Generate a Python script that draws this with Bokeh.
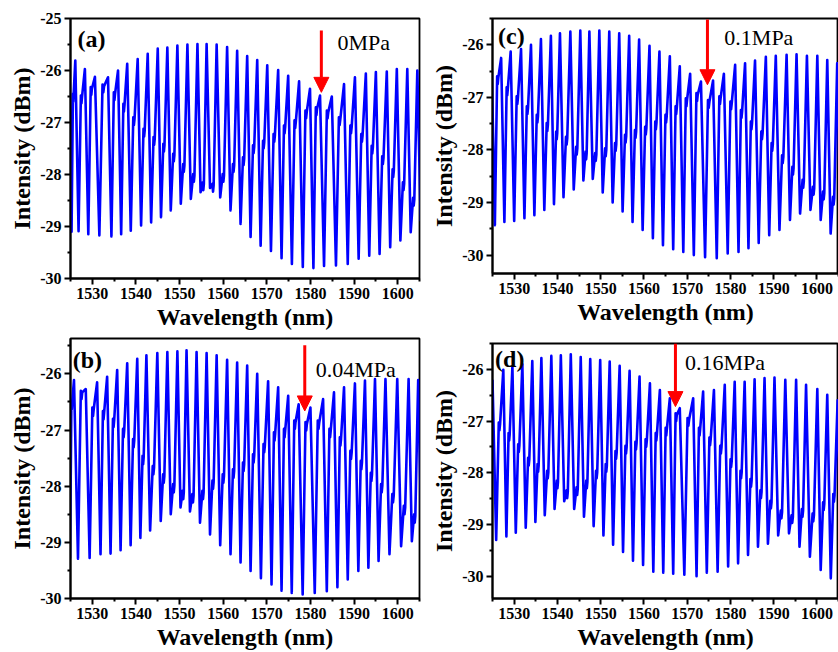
from bokeh.plotting import figure
from bokeh.models import FixedTicker, Label, Arrow, NormalHead, Range1d
from bokeh.layouts import row, column
from bokeh.embed import file_html
from bokeh.resources import INLINE

# ---------------- data ----------------
# Each panel: fringe peak wavelengths (nm) and peak levels (dBm),
# the shoulder level and the trough level that precede each peak
# (the last trough follows the last peak).

A_PEAK_NM = [1524.8, 1526.1, 1528.3, 1530.6, 1533.6, 1535.9, 1538.0, 1540.4, 1542.7, 1545.0,
             1547.2, 1549.5, 1551.8, 1554.1, 1556.2, 1558.5, 1560.9, 1563.2, 1565.5, 1567.8,
             1570.1, 1572.6, 1574.9, 1577.4, 1579.9, 1582.2, 1584.9, 1587.7, 1590.2, 1592.7,
             1595.0, 1597.5, 1599.8, 1602.2, 1604.5]
A_PEAK_DB = [-26.00, -25.81, -25.97, -26.12, -26.13, -26.00, -25.87, -25.78, -25.68, -25.58,
             -25.56, -25.52, -25.50, -25.49, -25.49, -25.50, -25.55, -25.62, -25.72, -25.80,
             -25.90, -25.99, -26.10, -26.21, -26.35, -26.48, -26.50, -26.26, -26.13, -26.06,
             -26.03, -26.02, -25.97, -25.97, -26.00]
A_SHOULDER_DB = [-26.45, -26.48, -26.32, -26.27, -26.42, -26.64, -26.90, -27.12, -27.28, -27.41,
                 -27.60, -27.80, -27.99, -28.15, -28.18, -27.99, -27.80, -27.67, -27.44, -27.35,
                 -27.22, -27.06, -26.96, -26.77, -26.71, -26.77, -26.90, -27.06, -27.22, -27.45,
                 -27.65, -27.90, -28.15, -28.45]
A_TROUGH_DB = [-29.10, -29.09, -29.15, -29.17, -29.19, -29.15, -29.08, -28.98, -28.92, -28.82,
               -28.69, -28.56, -28.47, -28.34, -28.26, -28.44, -28.69, -28.95, -29.20, -29.37,
               -29.47, -29.61, -29.72, -29.78, -29.80, -29.76, -29.75, -29.72, -29.62, -29.56,
               -29.53, -29.40, -29.27, -29.11, -28.90]

B_PEAK_NM = [1524.4, 1525.8, 1528.5, 1531.1, 1533.4, 1535.7, 1538.0, 1540.3, 1542.4, 1544.9,
             1547.2, 1549.5, 1551.6, 1553.9, 1556.2, 1558.5, 1560.9, 1563.2, 1565.5, 1567.8,
             1570.3, 1572.6, 1574.9, 1577.3, 1580.0, 1582.9, 1585.4, 1587.7, 1590.2, 1592.5,
             1594.8, 1597.2, 1599.9, 1602.5, 1604.7]
B_PEAK_DB = [-26.20, -26.11, -26.27, -26.15, -26.05, -25.93, -25.81, -25.73, -25.67, -25.63,
             -25.61, -25.60, -25.58, -25.61, -25.63, -25.67, -25.75, -25.80, -25.85, -26.00,
             -26.13, -26.24, -26.39, -26.54, -26.60, -26.45, -26.33, -26.24, -26.17, -26.12,
             -26.09, -26.09, -26.09, -26.09, -26.11]
B_SHOULDER_DB = [-26.48, -26.30, -26.60, -26.66, -26.80, -26.98, -27.16, -27.46, -27.64, -27.79,
                 -27.96, -28.08, -28.14, -28.08, -27.90, -27.79, -27.70, -27.58, -27.43, -27.25,
                 -27.04, -26.98, -26.83, -26.86, -26.83, -26.98, -27.13, -27.37, -27.55, -27.76,
                 -27.96, -28.14, -28.35, -28.50]
B_TROUGH_DB = [-29.28, -29.29, -29.28, -29.21, -29.20, -29.14, -29.05, -28.92, -28.79, -28.62,
               -28.50, -28.38, -28.45, -28.65, -28.86, -29.05, -29.21, -29.36, -29.51, -29.64,
               -29.75, -29.86, -29.90, -29.93, -29.90, -29.87, -29.80, -29.66, -29.51, -29.45,
               -29.33, -29.21, -29.07, -28.98, -28.90]

C_PEAK_NM = [1524.8, 1527.0, 1529.2, 1531.6, 1533.9, 1536.2, 1538.5, 1540.6, 1543.0, 1545.3,
             1547.4, 1549.7, 1552.0, 1554.3, 1556.6, 1558.9, 1561.3, 1563.6, 1566.0, 1568.3,
             1570.7, 1573.2, 1576.0, 1578.5, 1581.1, 1583.4, 1585.7, 1588.2, 1590.5, 1593.0,
             1595.3, 1597.7, 1600.1, 1602.4, 1604.7]
C_PEAK_DB = [-26.35, -26.25, -26.13, -26.08, -26.00, -25.89, -25.83, -25.78, -25.75, -25.73,
             -25.75, -25.73, -25.75, -25.78, -25.83, -25.90, -26.02, -26.13, -26.22, -26.41,
             -26.55, -26.70, -26.68, -26.55, -26.38, -26.35, -26.30, -26.23, -26.21, -26.19,
             -26.18, -26.21, -26.21, -26.29, -26.35]
C_SHOULDER_DB = [-26.60, -26.81, -26.98, -27.17, -27.33, -27.49, -27.65, -27.75, -27.94, -28.03,
                 -28.06, -27.97, -27.87, -27.71, -27.62, -27.56, -27.46, -27.33, -27.17, -27.02,
                 -26.92, -27.05, -26.98, -27.08, -27.24, -27.46, -27.65, -27.87, -28.10, -28.32,
                 -28.57, -28.70, -28.79, -28.89]
C_TROUGH_DB = [-29.43, -29.37, -29.35, -29.30, -29.24, -29.14, -29.03, -28.90, -28.75, -28.58,
               -28.55, -28.81, -29.00, -29.17, -29.37, -29.52, -29.68, -29.81, -29.89, -29.94,
               -30.00, -30.04, -30.06, -29.97, -29.94, -29.87, -29.77, -29.62, -29.52, -29.33,
               -29.21, -29.14, -29.33, -29.59, -29.60]

D_PEAK_NM = [1525.0, 1527.5, 1529.6, 1531.9, 1534.2, 1536.3, 1538.6, 1540.8, 1543.1, 1545.4,
             1547.6, 1549.9, 1552.1, 1554.4, 1556.7, 1559.0, 1561.4, 1563.7, 1566.0, 1568.3,
             1571.4, 1573.7, 1576.2, 1578.7, 1581.0, 1583.3, 1585.6, 1587.9, 1590.2, 1592.7,
             1595.2, 1597.5, 1600.1, 1602.4, 1604.8]
D_PEAK_DB = [-26.20, -26.01, -25.95, -25.90, -25.84, -25.78, -25.74, -25.73, -25.71, -25.76,
             -25.80, -25.82, -25.85, -25.93, -26.03, -26.14, -26.27, -26.40, -26.56, -26.75,
             -26.56, -26.43, -26.40, -26.30, -26.24, -26.24, -26.19, -26.17, -26.16, -26.20,
             -26.20, -26.30, -26.38, -26.49, -26.60]
D_SHOULDER_DB = [-27.03, -27.23, -27.45, -27.71, -27.83, -27.96, -28.15, -28.34, -28.28, -28.15,
                 -27.96, -27.83, -27.58, -27.48, -27.40, -27.35, -27.23, -27.13, -26.85, -26.94,
                 -27.13, -27.32, -27.48, -27.74, -27.96, -28.12, -28.34, -28.54, -28.73, -28.82,
                 -28.70, -28.79, -28.57, -28.41]
D_TROUGH_DB = [-29.30, -29.23, -29.16, -29.06, -28.95, -28.82, -28.70, -28.55, -28.70, -28.85,
               -29.03, -29.21, -29.39, -29.53, -29.70, -29.78, -29.91, -29.93, -29.95, -29.97,
               -30.00, -29.93, -29.91, -29.81, -29.75, -29.59, -29.43, -29.37, -29.21, -29.17,
               -29.43, -29.62, -29.88, -30.04, -30.10]

PANEL_TAGS = ["(a)", "(b)", "(c)", "(d)"]
PRESSURES = ["0MPa", "0.04MPa", "0.1MPa", "0.16MPa"]
ARROW_NM = [1582.5, 1578.7, 1574.7, 1567.3]
ARROW_TOP_DB = [-25.23, -25.49, -25.52, -25.50]
ARROW_TIP_DB = [-26.42, -26.66, -26.76, -26.72]

X_RANGE = (1525, 1605)
X_TICKS = [1530, 1540, 1550, 1560, 1570, 1580, 1590, 1600]
X_TICK_LABELS = ["1530", "1540", "1550", "1560", "1570", "1580", "1590", "1600"]
X_MINOR = [1525, 1535, 1545, 1555, 1565, 1575, 1585, 1595, 1605]
Y_TICKS = [-30, -29, -28, -27, -26, -25]
Y_TICK_LABELS = ["-30", "-29", "-28", "-27", "-26", "-25"]
Y_MINOR = [-30.5, -29.5, -28.5, -27.5, -26.5, -25.5]
Y_RANGES = [(-30.0, -25.0), (-30.0, -25.37), (-30.35, -25.5), (-30.43, -25.5)]

# ---------------- style ----------------
FONT = "Liberation Serif"
BLUE = "#0000ff"
RED = "#ff0000"
NOTCH = 0.15          # depth of the small notch in each shoulder (dB), drawing style


def trace(peak_nm, peak_db, shoulder_db, trough_db):
    xs, ys = [peak_nm[0]], [peak_db[0]]
    for i in range(1, len(peak_nm)):
        a, b = peak_nm[i - 1], peak_nm[i]
        g = b - a
        s = shoulder_db[i - 1]
        xs += [a + 0.34 * g, a + 0.58 * g, a + 0.64 * g, a + 0.70 * g, b]
        ys += [trough_db[i - 1], s, s - NOTCH, s - 0.03, peak_db[i]]
    g = peak_nm[-1] - peak_nm[-2]
    xs.append(peak_nm[-1] + 0.34 * g)
    ys.append(trough_db[-1])
    return xs, ys


def panel(k, width, height, bl, br, bt, bb, data, tag_pos, text_pos):
    p = figure(width=width, height=height, output_backend="svg", toolbar_location=None,
               x_range=Range1d(*X_RANGE), y_range=Range1d(*Y_RANGES[k]),
               min_border_left=bl, min_border_right=br, min_border_top=bt, min_border_bottom=bb,
               background_fill_color="white", border_fill_color="white")
    p.xgrid.visible = False
    p.ygrid.visible = False
    p.outline_line_color = "black"
    p.outline_line_width = 1.8
    p.outline_line_alpha = 1.0

    p.xaxis.ticker = FixedTicker(ticks=X_TICKS, minor_ticks=X_MINOR)
    p.xaxis.major_label_overrides = dict(zip(X_TICKS, X_TICK_LABELS))
    p.yaxis.ticker = FixedTicker(ticks=Y_TICKS, minor_ticks=Y_MINOR)
    p.yaxis.major_label_overrides = dict(zip(Y_TICKS, Y_TICK_LABELS))
    p.xaxis.axis_label = "Wavelength (nm)"
    p.yaxis.axis_label = "Intensity (dBm)"
    for ax in (p.xaxis, p.yaxis):
        ax.axis_line_color = "black"
        ax.axis_line_width = 2
        ax.major_tick_line_color = "black"
        ax.major_tick_line_width = 2
        ax.minor_tick_line_color = "black"
        ax.minor_tick_line_width = 2
        ax.major_tick_in = 0
        ax.major_tick_out = 6
        ax.minor_tick_in = 0
        ax.minor_tick_out = 3
        ax.major_label_text_font = FONT
        ax.major_label_text_font_style = "bold"
        ax.major_label_text_font_size = "16px"
        ax.major_label_text_color = "black"
        ax.major_label_standoff = 3
        ax.axis_label_text_font = FONT
        ax.axis_label_text_font_style = "bold"
        ax.axis_label_text_font_size = "24px"
        ax.axis_label_text_color = "black"
        ax.axis_label_standoff = 2

    xs, ys = trace(*data)
    p.line(xs, ys, line_color=BLUE, line_width=2.6, line_join="round")

    p.add_layout(Label(x=tag_pos[0], y=tag_pos[1], text=PANEL_TAGS[k], text_font=FONT,
                       text_font_style="bold", text_font_size="24px", text_color="black",
                       text_baseline="middle", text_align="left"))
    p.add_layout(Label(x=text_pos[0], y=text_pos[1], text=PRESSURES[k], text_font=FONT,
                       text_font_size="22px", text_color="black",
                       text_baseline="middle", text_align="left"))
    p.add_layout(Arrow(end=NormalHead(size=15, fill_color=RED, line_color=RED),
                       x_start=ARROW_NM[k], y_start=ARROW_TOP_DB[k],
                       x_end=ARROW_NM[k], y_end=ARROW_TIP_DB[k],
                       line_color=RED, line_width=3))
    return p


pa = panel(0, 425, 335, 70, 6, 18, 57,
           (A_PEAK_NM, A_PEAK_DB, A_SHOULDER_DB, A_TROUGH_DB),
           (1526.6, -25.40), (1586.2, -25.47))
pb = panel(1, 425, 317, 70, 6, 3, 54,
           (B_PEAK_NM, B_PEAK_DB, B_SHOULDER_DB, B_TROUGH_DB),
           (1525.5, -25.745), (1581.2, -25.92))
pc = panel(2, 413, 335, 67, 0, 18, 62,
           (C_PEAK_NM, C_PEAK_DB, C_SHOULDER_DB, C_TROUGH_DB),
           (1526.3, -25.84), (1578.6, -25.86))
pd = panel(3, 413, 317, 67, 0, 8, 52,
           (D_PEAK_NM, D_PEAK_DB, D_SHOULDER_DB, D_TROUGH_DB),
           (1525.6, -25.79), (1569.5, -25.87))

layout = row(column(pa, pb), column(pc, pd))
open("out.html", "w").write(file_html(layout, INLINE))
